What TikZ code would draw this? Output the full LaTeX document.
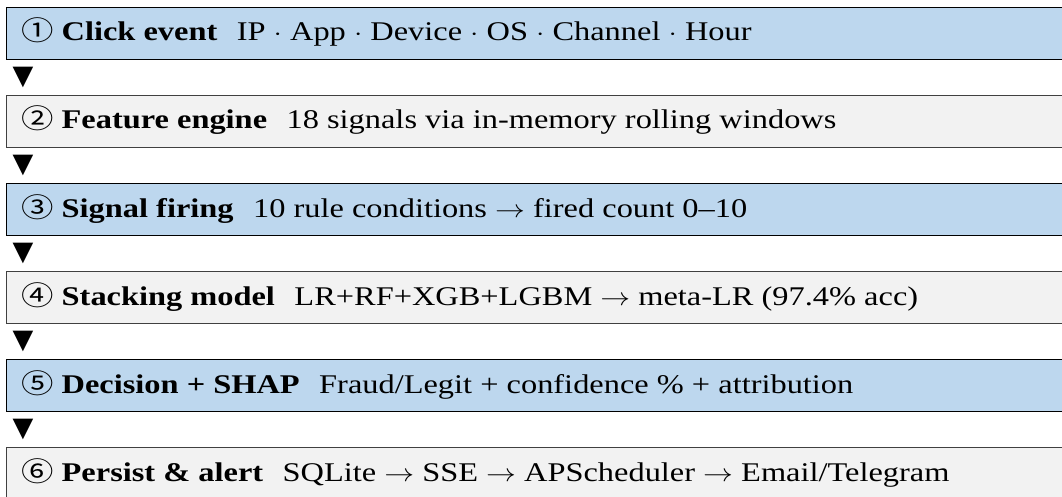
\documentclass[tikz,border=0pt]{standalone}
\usepackage{fontspec}
\usepackage{graphicx}
\setmainfont{Liberation Serif}
\newfontfamily\symfont{DejaVu Sans}
\newfontfamily\circfont{Noto Sans CJK SC}
\usepackage{tikz}

\definecolor{stageblue}{HTML}{BDD7EE}
\definecolor{stagegray}{HTML}{F2F2F2}
\newcommand{\num}[1]{{\circfont #1}}
\newcommand{\gap}{\hspace{0.6em}}
\newcommand{\nxt}{$\rightarrow$}
\newcommand{\wide}[1]{\scalebox{1.2}[1]{#1}}

\tikzset{
    bluebox/.style={draw=black,line width=1.3pt,fill=stageblue,minimum width=1100pt,minimum height=52pt,inner sep=0pt,anchor=north west},
    graybox/.style={draw=black!75,line width=0.8pt,fill=stagegray,minimum width=1100pt,minimum height=52pt,inner sep=0pt,anchor=north west},
    stagetext/.style={anchor=base west,inner sep=0pt,font=\fontsize{27}{31}\selectfont},
    downmark/.style={inner sep=0pt,font=\symfont\fontsize{27}{30}\selectfont}
}

\begin{document}
\begin{tikzpicture}[x=1pt,y=-1pt]
    \useasboundingbox (0,0) rectangle (1062,497);
    \clip (0,0) rectangle (1062,497);
    \fill[white] (0,0) rectangle (1062,497);

    \node[bluebox] (click) at (6,7) {};
    \node[stagetext] (clicktext) at (21,41) {\wide{\num{①} \textbf{Click event}\gap IP $\cdot$ App $\cdot$ Device $\cdot$ OS $\cdot$ Channel $\cdot$ Hour}};
    \node[downmark] (down1) at (23,77) {▼};

    \node[graybox] (feature) at (6,95) {};
    \node[stagetext] (featuretext) at (21,129) {\wide{\num{②} \textbf{Feature engine}\gap 18 signals via in-memory rolling windows}};
    \node[downmark] (down2) at (23,165) {▼};

    \node[bluebox] (firing) at (6,183) {};
    \node[stagetext] (firingtext) at (21,217) {\wide{\num{③} \textbf{Signal firing}\gap 10 rule conditions \nxt{} fired count 0–10}};
    \node[downmark] (down3) at (23,253) {▼};

    \node[graybox] (stacking) at (6,271) {};
    \node[stagetext] (stackingtext) at (21,305) {\wide{\num{④} \textbf{Stacking model}\gap LR+RF+XGB+LGBM \nxt{} meta-LR (97.4\% acc)}};
    \node[downmark] (down4) at (23,341) {▼};

    \node[bluebox] (decision) at (6,359) {};
    \node[stagetext] (decisiontext) at (21,393) {\wide{\num{⑤} \textbf{Decision + SHAP}\gap Fraud/Legit + confidence \% + attribution}};
    \node[downmark] (down5) at (23,429) {▼};

    \node[graybox] (persist) at (6,447) {};
    \node[stagetext] (persisttext) at (21,481) {\wide{\num{⑥} \textbf{Persist \& alert}\gap SQLite \nxt{} SSE \nxt{} APScheduler \nxt{} Email/Telegram}};
\end{tikzpicture}
\end{document}
